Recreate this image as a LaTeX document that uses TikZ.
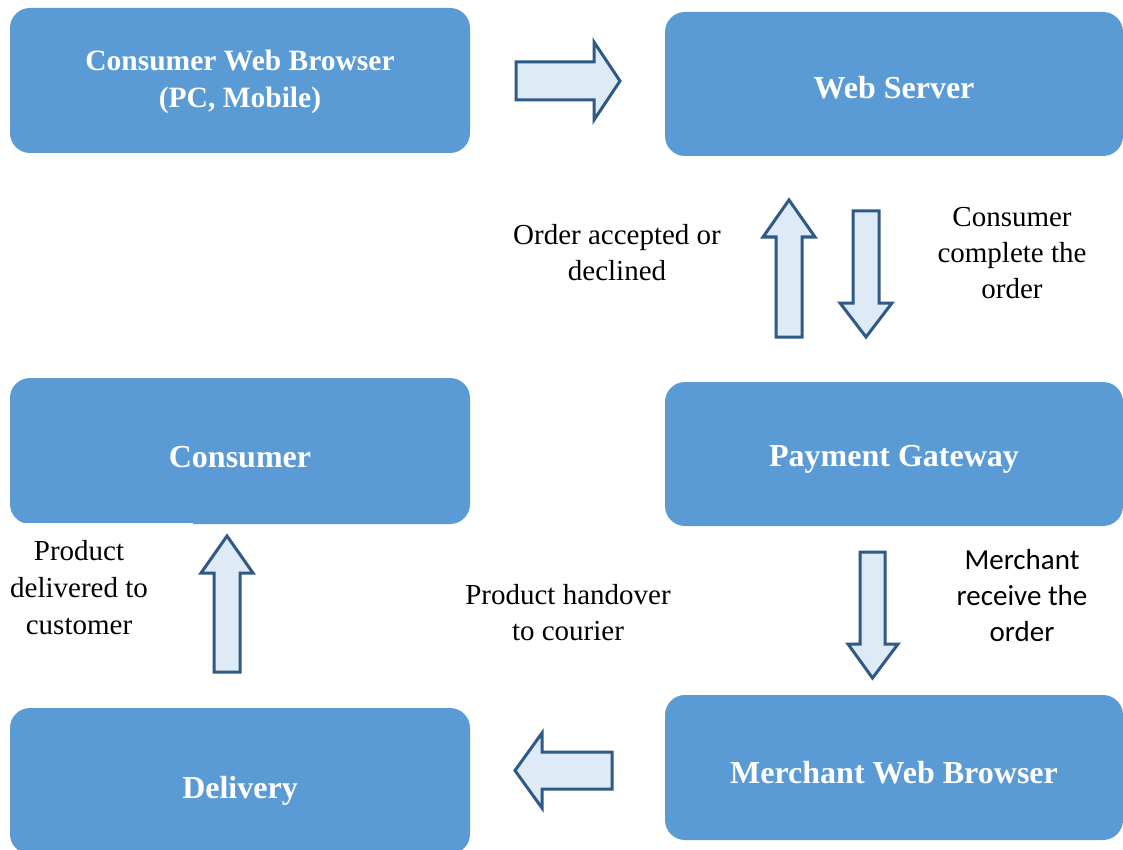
\documentclass[tikz,border=0pt]{standalone}
\usepackage{fontspec}
\setmainfont{Liberation Serif}
\newfontfamily\calib{Carlito}
\definecolor{boxblue}{HTML}{5B9BD5}
\definecolor{arrfill}{HTML}{DEEBF7}
\definecolor{arrline}{HTML}{2F5A85}
\begin{document}
\begin{tikzpicture}[x=1pt,y=-1pt,
  box/.style={fill=boxblue, draw=none, rounded corners=20pt, inner sep=0pt},
  boxtext/.style={text=white, font=\fontsize{32}{37}\selectfont\bfseries, align=center, inner sep=0pt},
  blockarrow/.style={fill=arrfill, draw=arrline, line width=3pt, line join=miter},
  lbl/.style={font=\fontsize{29}{36}\selectfont, align=center, inner sep=0pt}]
\useasboundingbox (0,0) rectangle (1123,850);
\fill[white] (0,0) rectangle (1123,850);
% boxes
\node[box, minimum width=460pt, minimum height=145pt] (cwb) at (240,80.5) {};
\node[box, minimum width=458pt, minimum height=144pt] (ws) at (894,84) {};
\node[box, minimum width=460pt, minimum height=146pt] (con) at (240,451) {};
\node[box, minimum width=458pt, minimum height=144pt] (pg) at (894,454) {};
\node[box, minimum width=460pt, minimum height=146pt] (del) at (240,781) {};
\node[box, minimum width=458pt, minimum height=145pt] (mwb) at (894,767.5) {};
\node[boxtext, font=\fontsize{29.5}{37}\selectfont\bfseries] (tcwb) at ([yshift=-1.5pt]cwb.center) {Consumer Web Browser\\(PC, Mobile)};
\node[boxtext] (tws) at ([yshift=-4pt]ws.center) {Web Server};
\node[boxtext] (tcon) at ([yshift=-6pt]con.center) {Consumer};
\node[boxtext] (tpg) at ([yshift=-5pt]pg.center) {Payment Gateway};
\node[boxtext] (tdel) at ([yshift=-10pt]del.center) {Delivery};
\node[boxtext] (tmwb) at ([yshift=-5pt]mwb.center) {Merchant Web Browser};
% white strip over consumer bottom-left
\fill[white] (5,522.5) rectangle (193,526);
% block arrows
\draw[blockarrow] (516,62) -- (594,62) -- (594,42) -- (620,81) -- (594,120) -- (594,100) -- (516,100) -- cycle;
\draw[blockarrow] (776,337) -- (776,237) -- (763,237) -- (789,200) -- (815,237) -- (802,237) -- (802,337) -- cycle;
\draw[blockarrow] (853,211) -- (879,211) -- (879,303) -- (892,303) -- (866,337) -- (840,303) -- (853,303) -- cycle;
\draw[blockarrow] (860,552) -- (885,552) -- (885,644) -- (898,644) -- (872.5,678) -- (848,644) -- (860,644) -- cycle;
\draw[blockarrow] (214,672) -- (214,573) -- (201,573) -- (227,536) -- (253,573) -- (240,573) -- (240,672) -- cycle;
\draw[blockarrow] (612,752) -- (542,752) -- (542,733) -- (515,770.5) -- (542,808) -- (542,789) -- (612,789) -- cycle;
% labels
\node[lbl] (l1) at (617,253) {Order accepted or\\declined};
\node[lbl] (l2) at (1012,253) {Consumer\\complete the\\order};
\node[lbl, font=\calib\fontsize{29}{36}\selectfont] (l3) at (1022,596) {Merchant\\receive the\\order};
\node[lbl] (l4) at (568,613) {Product handover\\to courier};
\node[lbl, font=\fontsize{29}{37}\selectfont] (l5) at (79,588) {Product\\delivered to\\customer};
\end{tikzpicture}
\end{document}
